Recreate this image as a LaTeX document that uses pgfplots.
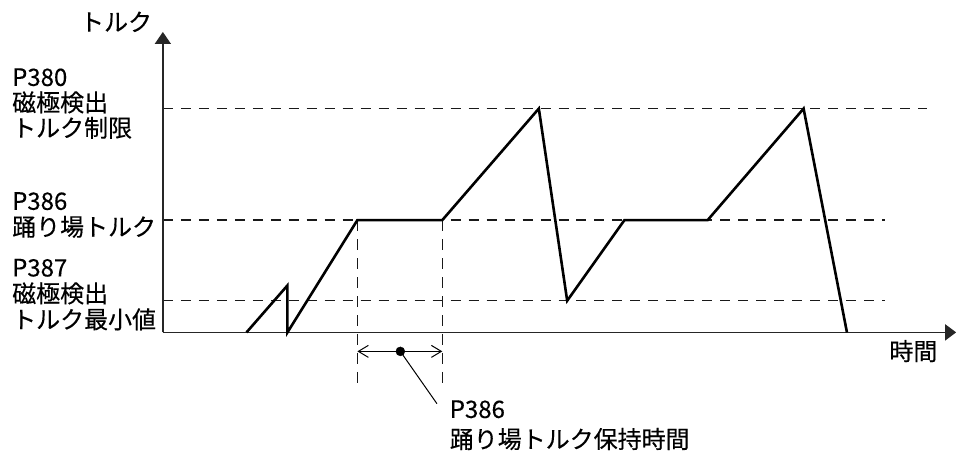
\documentclass[border=0pt]{standalone}
\usepackage{fontspec}
\setmainfont{Noto Sans CJK JP}[FakeBold=0.35]
\usepackage{pgfplots}
\pgfplotsset{compat=1.18}
\usetikzlibrary{arrows.meta}
\begin{document}
\begin{tikzpicture}
\begin{axis}[
  hide axis, scale only axis, clip=false,
  x=1bp, y=1bp,
  xmin=0, xmax=957, ymin=0, ymax=454,
]
% bounding area
\path[draw=none] (axis cs:0,0) rectangle (axis cs:957,454);
% reference levels (dashed)
\addplot[black!90, line width=1.4bp, dash pattern=on 10bp off 8bp] coordinates {(163,345.3) (928,345.3)};
\addplot[black!90, line width=1.4bp, dash pattern=on 10bp off 8bp] coordinates {(163,233.7) (886,233.7)};
\addplot[black!90, line width=1.4bp, dash pattern=on 10bp off 8bp] coordinates {(163,153) (886,153)};
% hold-time markers
\addplot[black!90, line width=1.4bp, dash pattern=on 11bp off 8bp] coordinates {(357.7,233.7) (357.7,69)};
\addplot[black!90, line width=1.4bp, dash pattern=on 11bp off 8bp] coordinates {(442.7,233.7) (442.7,69)};
% axes
\draw[black!85, line width=1.7bp, -{Triangle[length=12bp,width=16bp]}] (axis cs:163,121.3) -- (axis cs:163,422);
\draw[black!85, line width=1.7bp, -{Triangle[length=11bp,width=16bp]}] (axis cs:163,121.3) -- (axis cs:957,121.3);
% torque curve
\addplot[black, line width=2.6bp, line join=miter] coordinates {
  (246.7,121.3) (287.7,168.3) (287.7,121.3) (357.7,233.7) (442.7,233.7)
  (539.3,345.3) (567.7,153) (625,233.7) (708.3,233.7) (804.3,345.3) (847.7,121.3)
};
% hold-time double arrow
\draw[black, line width=1bp, {Straight Barb[length=10bp,width=12bp]}-{Straight Barb[length=10bp,width=12bp]}] (axis cs:357.7,102.3) -- (axis cs:442.7,102.3);
\addplot[black, line width=1bp] coordinates {(400.7,102.3) (437.3,50)};
\addplot[only marks, mark=*, mark size=4.5bp, black] coordinates {(400.7,102.3)};
% labels
\tikzset{lab/.style={anchor=base west, inner sep=0pt, font=\fontsize{24bp}{26bp}\selectfont, text=black}}
\node[lab] at (axis cs:12,368) {P380};
\node[lab] at (axis cs:12,342.5) {磁極検出};
\node[lab] at (axis cs:12,317) {トルク制限};
\node[lab] at (axis cs:12,244) {P386};
\node[lab] at (axis cs:12,218) {踊り場トルク};
\node[lab] at (axis cs:12,177.3) {P387};
\node[lab] at (axis cs:12,151.3) {磁極検出};
\node[lab] at (axis cs:12,125.3) {トルク最小値};
\node[lab] at (axis cs:80,423) {トルク};
\node[lab] at (axis cs:890,93.5) {時間};
\node[lab] at (axis cs:450,35.7) {P386};
\node[lab] at (axis cs:450,5.5) {踊り場トルク保持時間};
\end{axis}
\end{tikzpicture}
\end{document}
